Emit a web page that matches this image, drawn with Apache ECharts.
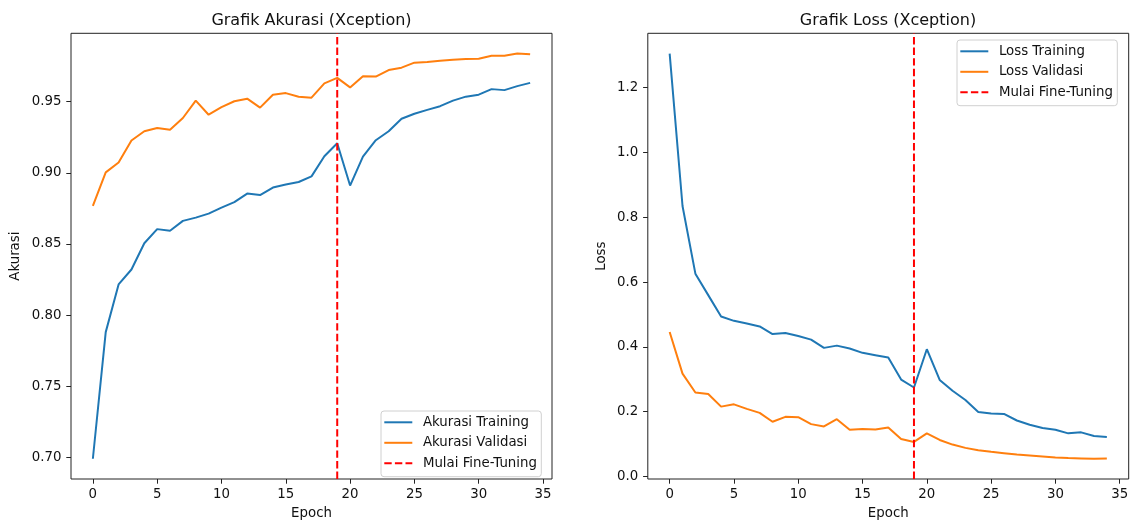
<!DOCTYPE html>
<html>
<head>
<meta charset="utf-8">
<script src="https://cdn.jsdelivr.net/npm/echarts@6/dist/echarts.min.js"></script>
<style>
html,body{margin:0;padding:0;background:#fff;}
#chart{width:1138px;height:525px;}
</style>
</head>
<body>
<div id="chart"></div>
<script>
const epochs = Array.from({length:35},(_, i) => i);
const accTrain = [0.699,0.788,0.8215,0.832,0.8505,0.8604,0.8593,0.8662,0.8685,0.8713,0.8755,0.8794,0.8854,0.8843,0.8896,0.8917,0.8935,0.8975,0.9116,0.9208,0.8910,0.9114,0.9229,0.9292,0.9380,0.9415,0.9442,0.9468,0.9507,0.9535,0.9549,0.9588,0.9581,0.9609,0.9632];
const accVal = [0.8767,0.9003,0.9072,0.9227,0.9292,0.9315,0.9303,0.9385,0.9507,0.9408,0.9461,0.9503,0.9521,0.9458,0.9549,0.9560,0.9535,0.9528,0.9628,0.9667,0.9600,0.9678,0.9676,0.9722,0.9739,0.9774,0.9778,0.9787,0.9794,0.9799,0.9801,0.9822,0.9822,0.9838,0.9833];
const lossTrain = [1.305,0.8346,0.626,0.5598,0.4936,0.4804,0.4723,0.4631,0.4397,0.4427,0.4336,0.4224,0.397,0.404,0.3949,0.3817,0.3746,0.3674,0.2992,0.2748,0.3929,0.2982,0.2646,0.2361,0.1995,0.1944,0.1934,0.1730,0.1598,0.1496,0.1445,0.1333,0.1364,0.1252,0.1221];
const lossVal = [0.4458,0.3176,0.2595,0.2545,0.2158,0.2229,0.2087,0.1964,0.1690,0.1842,0.1832,0.1618,0.1547,0.1771,0.1445,0.1466,0.1455,0.1516,0.1160,0.1069,0.1333,0.1130,0.0987,0.0885,0.0814,0.0763,0.0722,0.0682,0.0651,0.0621,0.0590,0.0570,0.0560,0.0550,0.0560];
const fineTuneEpoch = 19;
const xTicks = [0,5,10,15,20,25,30,35];
const accTicks = [0.70,0.75,0.80,0.85,0.90,0.95];
const lossTicks = [0.0,0.2,0.4,0.6,0.8,1.0,1.2];

function pad(arrs){
  const all = [].concat(...arrs);
  const mn = Math.min(...all), mx = Math.max(...all), r = mx - mn;
  return [mn - 0.05*r, mx + 0.05*r];
}
const xRange = [-0.05*34, 34 + 0.05*34];
const accRange = pad([accTrain, accVal]);
const lossRange = pad([lossTrain, lossVal]);

const FONT = 'DejaVu Sans';
const FS = 13.33;
const TXT = '#111';
const solidIcon = 'path://M0,0 L28,0 L28,2 L0,2 Z';
const dashIcon = 'path://M0,0h7.4v2h-7.4z M10.6,0h7.4v2h-7.4z M21.2,0h6.8v2h-6.8z';

function xAxisCfg(gi){
  return {
    type:'value', gridIndex:gi, min:xRange[0], max:xRange[1],
    name:'Epoch', nameLocation:'middle', nameGap:28,
    nameTextStyle:{fontFamily:FONT,fontSize:FS,color:TXT},
    axisLine:{show:false,onZero:false}, splitLine:{show:false},
    axisTick:{show:true,length:4.7,lineStyle:{color:'#222',width:1},customValues:xTicks},
    axisLabel:{fontFamily:FONT,fontSize:FS,color:TXT,margin:9.3,customValues:xTicks,formatter:v=>String(v)}
  };
}
function yAxisCfg(gi, range, ticks, name, dec, gap){
  return {
    type:'value', gridIndex:gi, min:range[0], max:range[1],
    name:name, nameLocation:'middle', nameGap:gap, nameRotate:90,
    nameTextStyle:{fontFamily:FONT,fontSize:FS,color:TXT},
    axisLine:{show:false,onZero:false}, splitLine:{show:false},
    axisTick:{show:true,length:4.7,lineStyle:{color:'#222',width:1},customValues:ticks},
    axisLabel:{fontFamily:FONT,fontSize:FS,color:TXT,margin:9.5,customValues:ticks,formatter:v=>v.toFixed(dec)}
  };
}
function lineSeries(name, data, color, gi){
  return {
    name:name, type:'line', xAxisIndex:gi, yAxisIndex:gi,
    data:data.map((v,i)=>[epochs[i],v]), showSymbol:false, symbol:'none',
    lineStyle:{color:color,width:2}, itemStyle:{color:color}, z:3
  };
}
function vline(gi, range){
  return {
    name:'Mulai Fine-Tuning', type:'line', xAxisIndex:gi, yAxisIndex:gi,
    data:[[fineTuneEpoch, range[0]],[fineTuneEpoch, range[1]]], showSymbol:false, symbol:'none',
    lineStyle:{color:'#ff0000',width:2,type:[7.4,3.2]}, itemStyle:{color:'#ff0000'}, z:4
  };
}
function legendCfg(names, left, top){
  return {
    orient:'vertical', left:left, top:top, padding:[3.8,4.4,5.9,3.3], itemGap:5.5,
    itemWidth:28, itemHeight:2, backgroundColor:'rgba(255,255,255,0.8)',
    borderColor:'#d0d0d0', borderWidth:1, borderRadius:3,
    textStyle:{fontFamily:FONT,fontSize:FS,color:TXT,lineHeight:15,padding:[0,0,0,5.6]},
    selectedMode:false,
    data:[{name:names[0],icon:solidIcon},{name:names[1],icon:solidIcon},{name:names[2],icon:dashIcon}]
  };
}

const chart = echarts.init(document.getElementById('chart'), null, {renderer:'canvas'});
chart.setOption({
  animation:false,
  backgroundColor:'#ffffff',
  title:[
    {text:'Grafik Akurasi (Xception)', left:311.5, top:12.5, textAlign:'center', padding:0,
     textStyle:{fontFamily:FONT,fontSize:16,fontWeight:'normal',color:TXT}},
    {text:'Grafik Loss (Xception)', left:888, top:12.5, textAlign:'center', padding:0,
     textStyle:{fontFamily:FONT,fontSize:16,fontWeight:'normal',color:TXT}}
  ],
  grid:[
    {left:71, right:586, top:33.3, bottom:41.7, show:true, borderColor:'#222', borderWidth:1, backgroundColor:'transparent'},
    {left:647.8, right:9.3, top:33.3, bottom:41.7, show:true, borderColor:'#222', borderWidth:1, backgroundColor:'transparent'}
  ],
  xAxis:[xAxisCfg(0), xAxisCfg(1)],
  yAxis:[yAxisCfg(0, accRange, accTicks, 'Akurasi', 2, 49), yAxisCfg(1, lossRange, lossTicks, 'Loss', 1, 39.5)],
  legend:[
    legendCfg(['Akurasi Training','Akurasi Validasi','Mulai Fine-Tuning'], 381, 411),
    legendCfg(['Loss Training','Loss Validasi','Mulai Fine-Tuning'], 957, 40)
  ],
  series:[
    lineSeries('Akurasi Training', accTrain, '#1f77b4', 0),
    lineSeries('Akurasi Validasi', accVal, '#ff7f0e', 0),
    vline(0, accRange),
    lineSeries('Loss Training', lossTrain, '#1f77b4', 1),
    lineSeries('Loss Validasi', lossVal, '#ff7f0e', 1),
    vline(1, lossRange)
  ]
});
</script>
</body>
</html>
